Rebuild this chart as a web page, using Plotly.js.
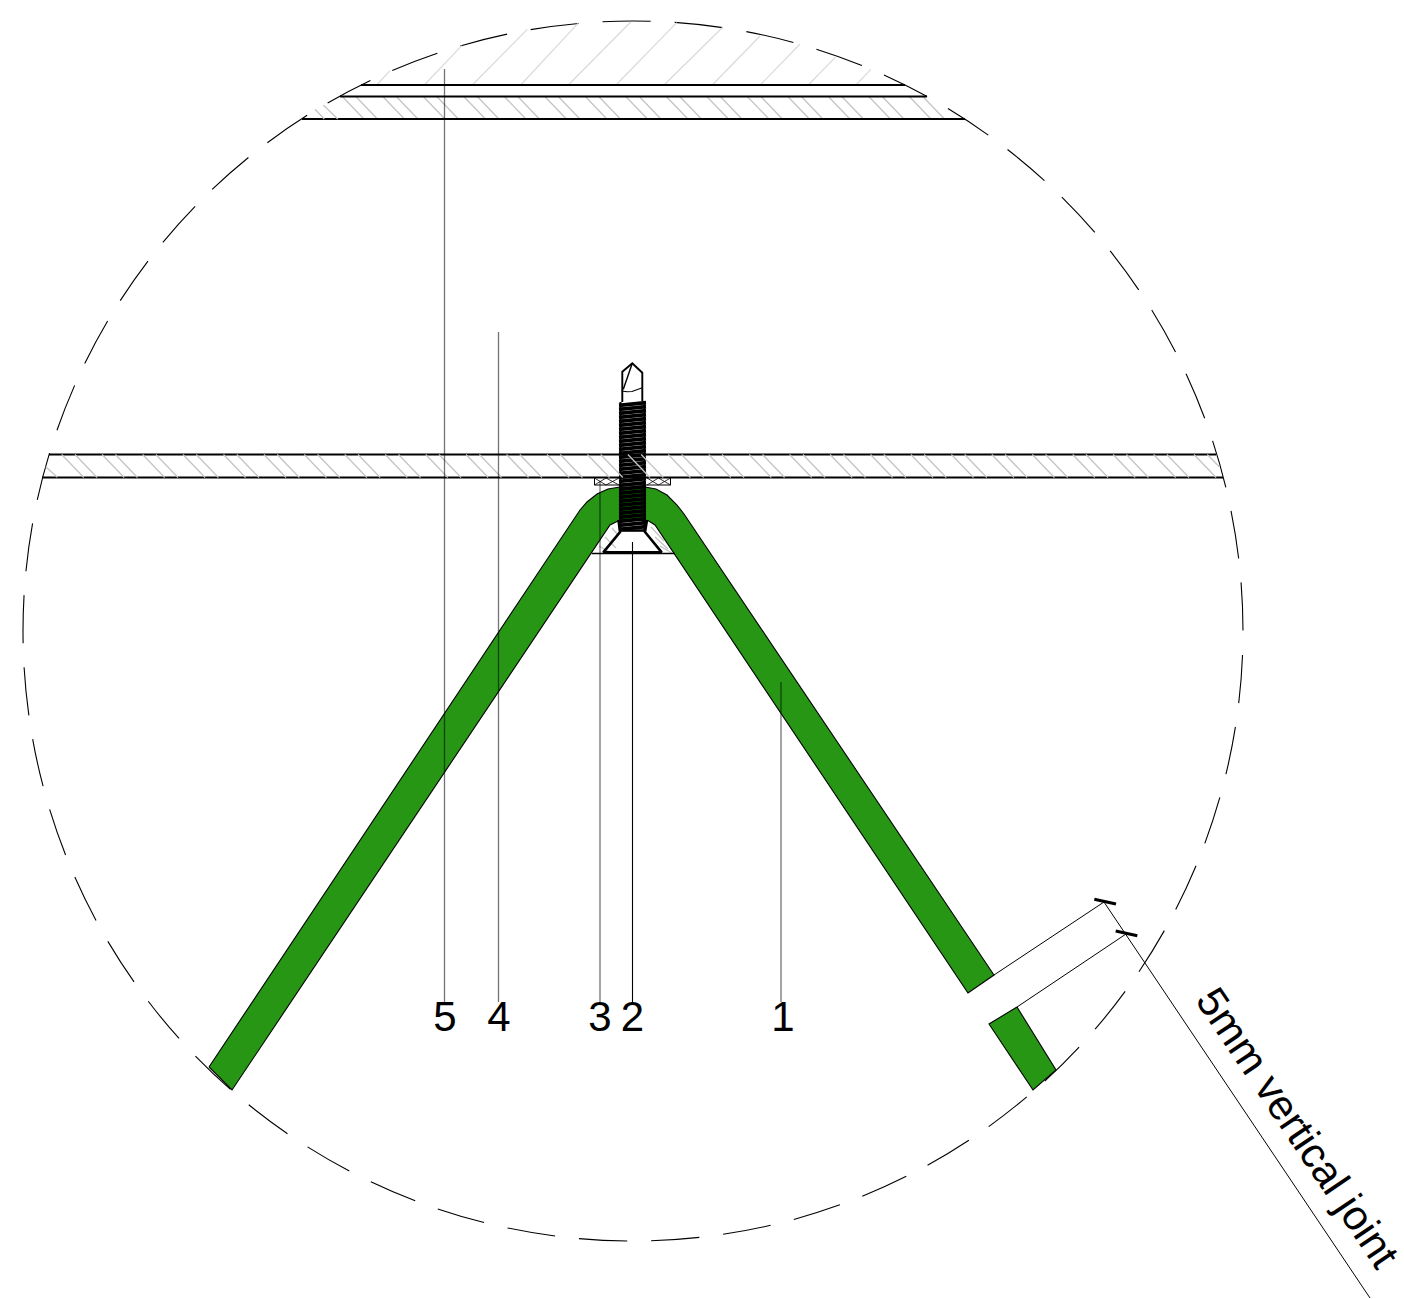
<!DOCTYPE html>
<html>
<head>
<meta charset="utf-8">
<script src="https://cdn.plot.ly/plotly-3.0.1.min.js"></script>
<style>html,body{margin:0;padding:0;background:#fff}#chart{width:1404px;height:1299px}</style>
</head>
<body>
<div id="chart"></div>
<script>
// Detail circle
var circleCx = 633, circleCy = 631, circleR = 610;

// Green profile outlines
var profileX = [209,580,587,597,608,620,645,656,667,677,684,994,968,655,648,619,610,232,209];
var profileY = [1067,510,502,494,489,487,487,489,495,505,514,975,993,525,520.5,520.5,525,1090,1067];
var profileEndX = [1017,1056,1033,989,1017];
var profileEndY = [1007,1070,1090,1024,1007];

// Horizontal layer lines [x0,x1,y]
var layerX0 = [361,340,302,49,42];
var layerX1 = [905,927,965,1216,1223];
var layerY  = [85,96.5,119,454.5,477.5];

// Hatching: upper band top ends
var bandHatchTop = [342.3,355.8,382.8,396.3,423.3,436.8,463.8,477.3,504.3,517.8,544.8,558.3,585.3,598.8,625.8,639.3,666.3,679.8,706.8,720.3,747.3,760.8,787.8,801.3,828.3,841.8,868.8,882.3,909.3,922.8];
// Hatching: plate top ends
var plateHatchTop = [61.7,75.0,102.1,115.4,142.6,155.9,183.0,196.3,223.5,236.8,263.9,277.2,304.3,317.6,344.8,358.1,385.2,398.5,425.7,439.0,466.1,479.4,506.5,519.8,547.0,560.3,587.4,600.7,627.9,641.2,668.3,681.6,708.7,722.0,749.2,762.5,789.6,802.9,830.1,843.4,870.5,883.8,910.9,924.2,951.4,964.7,991.8,1005.1,1032.3,1045.6,1072.7,1086.0,1113.1,1126.4,1153.6,1166.9,1194.0];
// Concrete hatch
var concreteX0 = [376.7,424.3,472.3,520.7,568.3,616,664,712.3,760.3,808.3,856];
var concreteX1 = [390,461.7,527.3,578,630.7,676.7,722.7,760,800,836,870.7];
var concreteY1 = [70.7,45.7,29.3,23.3,22,22.7,27.3,36,44,56.7,69.3];
// Loose hatch strokes
var looseX0 = [315,323.3,45.7,1207.3,612,605,599,651,655,660];
var looseY0 = [109.3,105,466.7,454.5,528,537,546,527,537,546];
var looseX1 = [324.3,337.7,57.3,1219.5,618,616,611,664,668,672];
var looseY1 = [119,119,477.3,467,535,548,553,541,549,553];

// Leader lines and numbers
var leaderX = [781,632.5,600,498.5,444.5];
var leaderTop = [682,542,481,332,69];
var leaderBottom = [1002,1002,1002,1002,1002];
var leaderLabels = ['1','2','3','4','5'];
var labelX = [783,632.5,600,499,445];
var labelY = [1020,1020,1020,1020,1020];

// Dimension
var dimX0 = [994,1017,1104];
var dimY0 = [975,1007,902];
var dimX1 = [1104,1126,1370];
var dimY1 = [902,934,1298];
var tickX0 = [1094.3,1115.7];
var tickY0 = [899.3,931];
var tickX1 = [1116,1137.3];
var tickY1 = [904,935.7];
var dimText = '5mm vertical joint';

// Screw
var threadY = [404,408,412,416,420,424,428,432,436,440,444,448,452,456,460,464,468,472,476,480,484,488,492,496,500,504,508,512,516,520,524,528];
var threadLeft = 619, threadRight = 646;
var tipX = [622.3,622.3,632.3,642.3,642.3];
var tipY = [402,371.7,363.3,372.7,401];
var tipDiagX = [632.3,623.3];
var tipDiagY = [363.3,389.3];
var tipArcX = [621.7,627,632,637,642.3];
var tipArcY = [391,391.7,391.5,390,387.7];
var sinkX = [618.5,620,603.3,661.7,645,647];
var sinkY = [520,532,552.3,552.3,532,520];
var sinkTopX = [620,645];
var sinkTopY = [530.5,530.5];
var washerBaseX = [591.7,675];
var washerBaseY = [553.5,553.5];
var spacerX = [594.5,594.5,670.5,670.5];
var spacerY = [478,485,485,478];
var spacerCrossX = [594.5,606,null,594.5,606,null,606,619,null,606,619,null,647,658.5,null,647,658.5,null,658.5,670.5,null,658.5,670.5];
var spacerCrossY = [478,485,null,485,478,null,478,485,null,485,478,null,478,485,null,485,478,null,478,485,null,485,478];

var GREEN = '#269614';

function lineTrace(x, y, color, width) {
  return {type:'scatter', mode:'lines', x:x, y:y, hoverinfo:'skip', showlegend:false,
          line:{color:color, width:width, shape:'linear'}, connectgaps:false};
}
function segments(x0, y0, x1, y1) {
  var xs = [], ys = [];
  x0.forEach(function (v, i) {
    xs.push(v, x1[i], null);
    ys.push(y0[i], y1[i], null);
  });
  return {x:xs, y:ys};
}
function hatch(tops, yTop, yBottom) {
  var dx = (yBottom - yTop) * 0.96;
  return segments(tops, tops.map(function(){return yTop;}),
                  tops.map(function(v){return v + dx;}), tops.map(function(){return yBottom;}));
}
function fillTrace(x, y) {
  return {type:'scatter', mode:'lines', x:x, y:y, fill:'toself', fillcolor:GREEN,
          hoverinfo:'skip', showlegend:false, line:{color:'#000', width:1.1}};
}

var concrete = segments(concreteX0, concreteX0.map(function(){return 85;}), concreteX1, concreteY1);
var band = hatch(bandHatchTop, 96.5, 119);
var plate = hatch(plateHatchTop, 454.5, 477.5);
var loose = segments(looseX0, looseY0, looseX1, looseY1);
var layers = segments(layerX0, layerY, layerX1, layerY);
var thread = segments(threadY.map(function(){return threadLeft;}), threadY.map(function(v){return v+1.3;}),
                      threadY.map(function(){return threadRight;}), threadY.map(function(v){return v-1.3;}));
var threadEdgeX = [620.5,620.5,null,644.5,644.5];
var threadEdgeY = [402,530,null,401,530];
var dim = segments(dimX0, dimY0, dimX1, dimY1);
var ticks = segments(tickX0, tickY0, tickX1, tickY1);
var leadersGrey = segments([leaderX[0],leaderX[2],leaderX[3],leaderX[4]],[leaderTop[0],leaderTop[2],leaderTop[3],leaderTop[4]],
                           [leaderX[0],leaderX[2],leaderX[3],leaderX[4]],[leaderBottom[0],leaderBottom[2],leaderBottom[3],leaderBottom[4]]);
var leaderBlack = segments([leaderX[1]],[leaderTop[1]],[leaderX[1]],[leaderBottom[1]]);

var traces = [
  lineTrace(concrete.x, concrete.y, '#dadada', 1.2),
  lineTrace(band.x, band.y, '#c4c4c4', 1.3),
  lineTrace(layers.x, layers.y, '#000', 1.9),
  fillTrace(profileX, profileY),
  fillTrace(profileEndX, profileEndY),
  lineTrace(spacerX, spacerY, '#000', 1),
  lineTrace(spacerCrossX, spacerCrossY, '#000', 0.8),
  lineTrace(loose.x, loose.y, '#c4c4c4', 1.3),
  lineTrace(washerBaseX, washerBaseY, '#000', 1.5),
  lineTrace(thread.x, thread.y, '#000', 3.85),
  lineTrace(threadEdgeX, threadEdgeY, '#000', 2),
  lineTrace(plate.x, plate.y, '#c4c4c4', 1.3),
  lineTrace(sinkX, sinkY, '#000', 2.6),
  lineTrace(sinkTopX, sinkTopY, '#000', 2.6),
  lineTrace(tipX, tipY, '#000', 1.9),
  lineTrace(tipDiagX, tipDiagY, '#000', 1.4),
  lineTrace(tipArcX, tipArcY, '#000', 1.1),
  lineTrace(leadersGrey.x, leadersGrey.y, 'rgba(0,0,0,0.55)', 1.3),
  lineTrace(leaderBlack.x, leaderBlack.y, '#000', 1.1),
  lineTrace(dim.x, dim.y, '#000', 1),
  lineTrace(ticks.x, ticks.y, '#000', 3.2),
  {type:'scatter', mode:'text', x:labelX, y:labelY, text:leaderLabels.map(String),
   textposition:'middle center', hoverinfo:'skip', showlegend:false,
   textfont:{family:'"Liberation Sans", Arial, sans-serif', size:42, color:'#000'}}
];

var dashParts = ['0px,24px'];
for (var n = 0; n < 54; n++) dashParts.push('48.3px,24px');

var layout = {
  width:1404, height:1299,
  margin:{l:0,r:0,t:0,b:0,pad:0},
  paper_bgcolor:'#fff', plot_bgcolor:'#fff',
  showlegend:false,
  xaxis:{range:[0,1404], visible:false, fixedrange:true},
  yaxis:{range:[1299,0], visible:false, fixedrange:true},
  shapes:[{type:'circle', xref:'x', yref:'y', layer:'below',
           x0:circleCx-circleR, x1:circleCx+circleR, y0:circleCy-circleR, y1:circleCy+circleR,
           line:{color:'#000', width:1.1, dash:dashParts.join(',')}}],
  annotations:[{xref:'x', yref:'y', x:1298, y:1127, text:dimText, showarrow:false, textangle:56,
                xanchor:'center', yanchor:'middle',
                font:{family:'"Liberation Sans", Arial, sans-serif', size:42, color:'#000'}}]
};

Plotly.newPlot('chart', traces, layout, {displayModeBar:false, staticPlot:true});
</script>
</body>
</html>
